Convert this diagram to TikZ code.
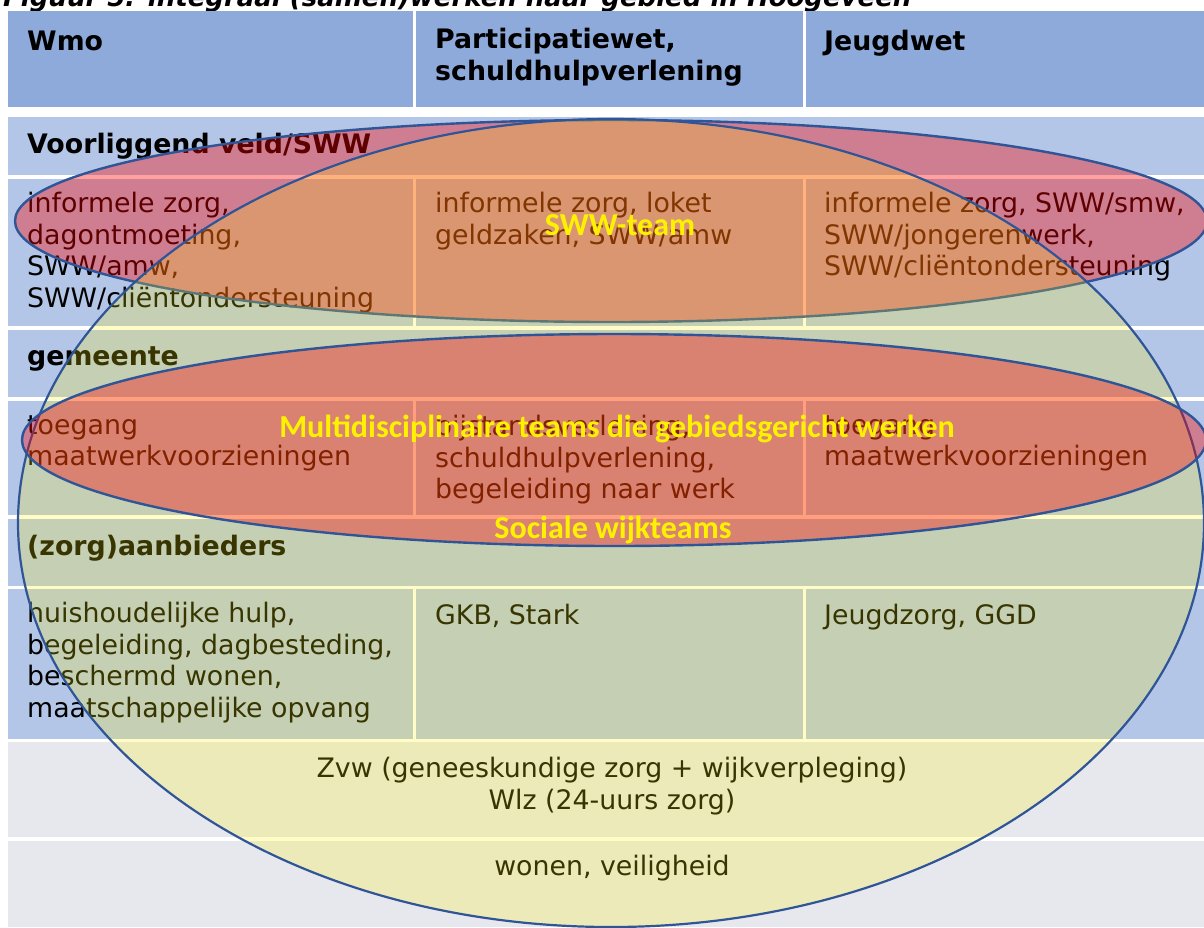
\documentclass[tikz,border=0pt]{standalone}
\usepackage{fontspec}
\setmainfont{DejaVu Sans}
\newfontfamily\teamfont{Carlito}

\definecolor{headblue}{HTML}{8EAADB}
\definecolor{rowblue}{HTML}{B4C6E7}
\definecolor{rowgrey}{HTML}{E7E8EE}
\definecolor{rimblue}{HTML}{2F5597}

\tikzset{
  celltext/.style={anchor=north west, inner sep=0pt, align=left,
    font=\fontsize{26.8}{31.5}\selectfont, execute at begin node=\strut},
  rowtitle/.style={celltext, font=\fontsize{26.8}{31.5}\selectfont\bfseries},
  teamlabel/.style={anchor=base, inner sep=0pt, text=yellow,
    font=\teamfont\bfseries\fontsize{32}{38}\selectfont},
  redteam/.style={fill=red, fill opacity=0.37, draw=rimblue, line width=2.4pt},
  wijkteam/.style={fill=yellow, fill opacity=0.22, draw=rimblue, line width=2.2pt}
}

\begin{document}
\begin{tikzpicture}[x=1pt, y=-1pt]
  %%%%% START %%%%%
  \useasboundingbox (0, 0) rectangle (1204, 927);
  \clip (0, 0) rectangle (1204, 927);
  \fill[white] (0, 0) rectangle (1204, 927);

  \node[anchor=base west, inner sep=0pt, font=\fontsize{26}{31}\selectfont\bfseries\itshape] (caption)
    at (3, 6) {Figuur 5: integraal (samen)werken naar gebied in Hoogeveen};

  % header row
  \fill[headblue] (8, 11) rectangle (413, 107);
  \fill[headblue] (416, 11) rectangle (803, 107);
  \fill[headblue] (806, 11) rectangle (1204, 107);

  % rows that run over the full width
  \fill[rowblue] (8, 117) rectangle (1204, 175);
  \fill[rowblue] (8, 330) rectangle (1204, 397);
  \fill[rowblue] (8, 519) rectangle (1204, 586);
  \fill[rowgrey] (8, 742) rectangle (1204, 837);
  \fill[rowgrey] (8, 841) rectangle (1204, 927);

  % rows with three cells
  \foreach \top/\bot in {179/326, 401/515, 589/739} {
    \fill[rowblue] (8, \top) rectangle (413, \bot);
    \fill[rowblue] (416, \top) rectangle (803, \bot);
    \fill[rowblue] (806, \top) rectangle (1204, \bot);
  }

  \node[rowtitle] (wmo) at (27, 28) {Wmo};
  \node[rowtitle] (pwet) at (435, 28) {Participatiewet,\\schuldhulpverlening};
  \node[rowtitle] (jwet) at (824, 28) {Jeugdwet};

  \node[rowtitle] (voorliggend) at (27, 131) {Voorliggend veld/SWW};
  \node[celltext] (vwmo) at (27, 192) {informele zorg,\\dagontmoeting,\\SWW/amw,\\SWW/cliëntondersteuning};
  \node[celltext] (vpwet) at (435, 192) {informele zorg, loket\\geldzaken, SWW/amw};
  \node[celltext] (vjwet) at (824, 192) {informele zorg, SWW/smw,\\SWW/jongerenwerk,\\SWW/cliëntondersteuning};

  \node[rowtitle] (gemeente) at (27, 343) {gemeente};
  \node[celltext] (gwmo) at (27, 415) {toegang\\maatwerkvoorzieningen};
  \node[celltext] (gpwet) at (435, 415) {bijstandsverlening,\\schuldhulpverlening,\\begeleiding naar werk};
  \node[celltext] (gjwet) at (824, 415) {toegang\\maatwerkvoorzieningen};

  \node[rowtitle] (aanbieders) at (27, 533) {(zorg)aanbieders};
  \node[celltext] (awmo) at (27, 602) {huishoudelijke hulp,\\begeleiding, dagbesteding,\\beschermd wonen,\\maatschappelijke opvang};
  \node[celltext] (apwet) at (435, 602) {GKB, Stark};
  \node[celltext] (ajwet) at (824, 602) {Jeugdzorg, GGD};

  \node[celltext, anchor=north, align=center] (zvw) at (612, 757) {Zvw (geneeskundige zorg + wijkverpleging)\\Wlz (24-uurs zorg)};
  \node[celltext, anchor=north, align=center] (wonen) at (612, 853) {wonen, veiligheid};

  % the teams on top of the table
  \path[redteam] (611, 221) ellipse [x radius=596pt, y radius=101pt];
  \path[wijkteam] (611, 523) ellipse [x radius=593pt, y radius=404pt];
  \path[redteam] (614, 440) ellipse [x radius=592pt, y radius=106pt];

  \node[teamlabel] (swwteam) at (620, 235) {SWW-team};
  \node[teamlabel] (multiteam) at (617, 437) {Multidisciplinaire teams die gebiedsgericht werken};
  \node[teamlabel] (wijkteams) at (613, 538) {Sociale wijkteams};
  %%%%% END %%%%%
\end{tikzpicture}
\end{document}
